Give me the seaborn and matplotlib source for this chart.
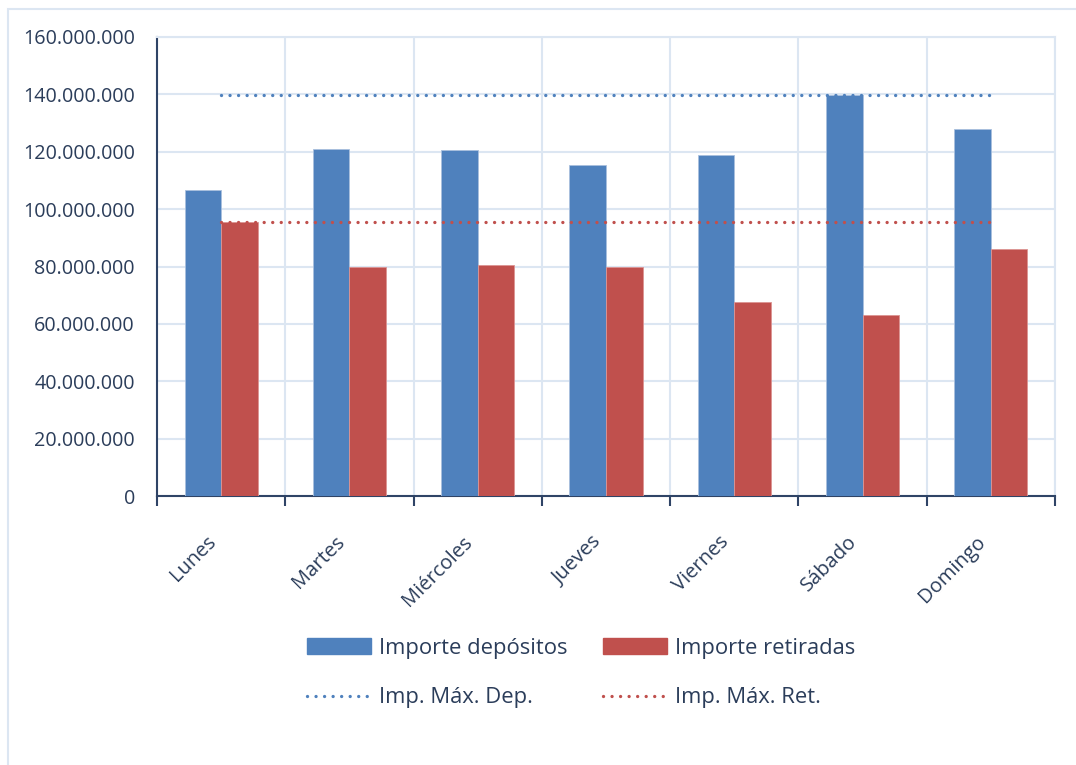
import numpy as np
import pandas as pd
import matplotlib
matplotlib.use("Agg")
import matplotlib.pyplot as plt
import matplotlib.transforms as mtransforms
from matplotlib.patches import Patch, Rectangle
from matplotlib.lines import Line2D
from matplotlib.ticker import FuncFormatter, MultipleLocator, FixedLocator
import seaborn as sns

# ── Data ───────────────────────────────────────────────────────────────────
dias = ["Lunes", "Martes", "Miércoles", "Jueves", "Viernes", "Sábado", "Domingo"]
depositos = [106.7e6, 121.0e6, 120.6e6, 115.4e6, 118.9e6, 139.8e6, 127.9e6]
retiradas = [95.5e6, 79.8e6, 80.5e6, 79.8e6, 67.6e6, 63.1e6, 86.1e6]

# ── Style ──────────────────────────────────────────────────────────────────
BLUE = "#4f81bd"
RED = "#c0504d"
GRID = "#dce6f2"
AXIS = "#2f4466"
TEXT = "#2b3d5a"

sns.set_theme(style="white")
plt.rcParams["font.family"] = ["Open Sans", "DejaVu Sans"]
plt.rcParams["text.color"] = TEXT

df = pd.DataFrame({
    "Día": dias * 2,
    "Importe": depositos + retiradas,
    "Serie": ["Importe depósitos"] * len(dias) + ["Importe retiradas"] * len(dias),
})

fig = plt.figure(figsize=(10.76, 7.65), dpi=100)
ax = fig.add_axes([157 / 1076, 269 / 765, (1055 - 157) / 1076, (496 - 37) / 765])

# outer frame (only top and left edges visible)
fig.patches.append(Rectangle((8 / 1076, -0.2), 1.2, 1.2 - 9 / 765,
                             transform=fig.transFigure, fill=False,
                             edgecolor=GRID, linewidth=1.5, zorder=0))

sns.barplot(data=df, x="Día", y="Importe", hue="Serie", order=dias,
            palette=[BLUE, RED], saturation=1, width=0.57, gap=0, ax=ax,
            edgecolor="#a9c0de", linewidth=0.6, legend=False, zorder=3)
# lighten edges of red bars
for patch in ax.patches[len(dias):]:
    patch.set_edgecolor("#dc9492")

pos = np.arange(len(dias))
max_dep = max(depositos)
max_ret = max(retiradas)
LW = 2.4
dot = (0, (0.01, 2.55))
ax.plot(pos, [max_dep] * len(dias), color=BLUE, linewidth=LW,
        linestyle=dot, dash_capstyle="round", zorder=4)
ax.plot(pos, [max_ret] * len(dias), color=RED, linewidth=LW,
        linestyle=dot, dash_capstyle="round", zorder=4)

# ── Axes ───────────────────────────────────────────────────────────────────
ax.set_xlim(-0.5, len(dias) - 0.5)
ax.set_ylim(0, 160e6)
ax.yaxis.set_major_locator(MultipleLocator(20e6))
ax.yaxis.set_major_formatter(FuncFormatter(lambda v, _: f"{v:,.0f}".replace(",", ".")))
ax.set_xlabel("")
ax.set_ylabel("")

ax.xaxis.set_minor_locator(FixedLocator(np.arange(len(dias) + 1) - 0.5))
ax.grid(True, which="major", axis="y", color=GRID, linewidth=1.5, zorder=0)
ax.grid(True, which="minor", axis="x", color=GRID, linewidth=1.5, zorder=0)
ax.grid(False, which="major", axis="x")
ax.set_axisbelow(True)

ax.tick_params(axis="x", which="major", length=0, pad=31, labelsize=14.5,
               labelcolor=TEXT)
ax.tick_params(axis="x", which="minor", length=7, width=1.5, color=AXIS,
               direction="out", bottom=True)
ax.tick_params(axis="y", length=0, pad=16, labelsize=14.2, labelcolor=TEXT)
shift = mtransforms.ScaledTranslation(-8 / 100, 0, fig.dpi_scale_trans)
for lbl in ax.get_xticklabels():
    lbl.set_rotation(45)
    lbl.set_ha("right")
    lbl.set_va("center")
    lbl.set_rotation_mode("anchor")
    lbl.set_transform(lbl.get_transform() + shift)

for side in ["top", "right"]:
    ax.spines[side].set_color(GRID)
    ax.spines[side].set_linewidth(1.5)
for side in ["left", "bottom"]:
    ax.spines[side].set_color(AXIS)
    ax.spines[side].set_linewidth(1.5)

# ── Legend ─────────────────────────────────────────────────────────────────
handles = [
    Patch(facecolor=BLUE, edgecolor=BLUE),
    Line2D([], [], color=BLUE, linewidth=LW, linestyle=dot, dash_capstyle="round"),
    Patch(facecolor=RED, edgecolor=RED),
    Line2D([], [], color=RED, linewidth=LW, linestyle=dot, dash_capstyle="round"),
]
labels = ["Importe depósitos", "Imp. Máx. Dep.", "Importe retiradas", "Imp. Máx. Ret."]
fig.legend(handles, labels, ncol=2, loc="center", bbox_to_anchor=(581 / 1076, 1 - 673 / 765),
           frameon=False, fontsize=15.8, handlelength=2.95, handleheight=0.7,
           handletextpad=0.35, columnspacing=1.6, labelspacing=1.3, labelcolor=TEXT)

fig.savefig("out.png", dpi=100)
